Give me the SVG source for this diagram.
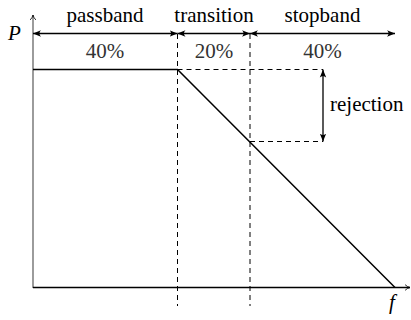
<svg xmlns="http://www.w3.org/2000/svg" width="411" height="320" viewBox="0 0 411 320">
<defs>
<marker id="ah" viewBox="0 0 10 10" refX="10" refY="5" markerWidth="8" markerHeight="8" markerUnits="userSpaceOnUse" orient="auto-start-reverse">
<path d="M0,1 Q4,5 0,9 L10,5 Z" fill="#000"/>
</marker>
<marker id="ax" viewBox="0 0 10 10" refX="9" refY="5" markerWidth="7" markerHeight="7" markerUnits="userSpaceOnUse" orient="auto">
<path d="M2,1 Q5,4 9,5 Q5,6 2,9" fill="none" stroke="#000" stroke-width="1.2"/>
</marker>
</defs>
<rect width="411" height="320" fill="#fff"/>
<g id="axes">
<line x1="33" y1="288" x2="33" y2="15" stroke="#666" stroke-width="1.3" marker-end="url(#ax)"/>
<line x1="33" y1="287.5" x2="410" y2="287.5" stroke="#000" stroke-width="1.3" marker-end="url(#ax)"/>
<text font-family="Liberation Serif" font-size="21" font-style="italic" x="8" y="40">P</text>
<text font-family="Liberation Serif" font-size="21" font-style="italic" x="389" y="309">f</text>
</g>
<g id="guides" stroke="#000" stroke-width="1" stroke-dasharray="5 4" fill="none">
<line x1="177.5" y1="34" x2="177.5" y2="306"/>
<line x1="250" y1="34" x2="250" y2="306"/>
<line x1="177.5" y1="69.5" x2="323" y2="69.5"/>
<line x1="250" y1="141.5" x2="323" y2="141.5"/>
</g>
<g id="response">
<polyline points="33,69.5 177.5,69.5 395,287.5" fill="none" stroke="#000" stroke-width="1.5"/>
</g>
<g id="connectors" stroke="#000" stroke-width="1.3">
<line x1="33" y1="33.5" x2="177.5" y2="33.5" marker-start="url(#ah)" marker-end="url(#ah)"/>
<line x1="177.5" y1="33.5" x2="250" y2="33.5" marker-start="url(#ah)" marker-end="url(#ah)"/>
<line x1="250" y1="33.5" x2="395" y2="33.5" marker-start="url(#ah)" marker-end="url(#ah)"/>
<line x1="323" y1="69.5" x2="323" y2="141.5" marker-start="url(#ah)" marker-end="url(#ah)"/>
</g>
<g id="passband">
<text font-family="Liberation Serif" font-size="21" x="105" y="22" text-anchor="middle">passband</text>
<text font-family="Liberation Serif" font-size="21" fill="#333" x="105" y="58" text-anchor="middle">40%</text>
</g>
<g id="transition">
<text font-family="Liberation Serif" font-size="21" x="214" y="22" text-anchor="middle">transition</text>
<text font-family="Liberation Serif" font-size="21" fill="#333" x="214" y="58" text-anchor="middle">20%</text>
</g>
<g id="stopband">
<text font-family="Liberation Serif" font-size="21" x="322.5" y="22" text-anchor="middle">stopband</text>
<text font-family="Liberation Serif" font-size="21" fill="#333" x="322.5" y="58" text-anchor="middle">40%</text>
</g>
<g id="rejection">
<text font-family="Liberation Serif" font-size="21" x="330" y="111">rejection</text>
</g>
</svg>
